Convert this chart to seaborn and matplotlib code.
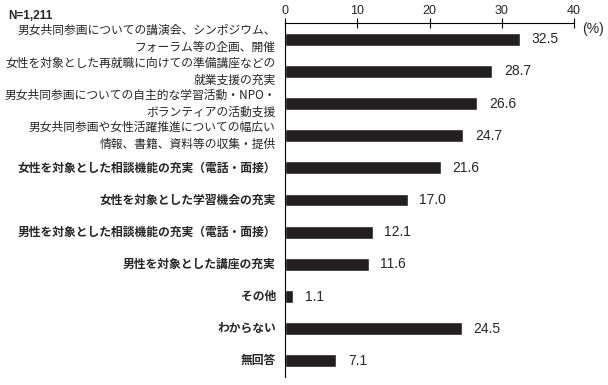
import matplotlib
matplotlib.use("Agg")
import matplotlib.pyplot as plt
import seaborn as sns
import pandas as pd

# データ
labels = [
    "男女共同参画についての講演会、シンポジウム、\nフォーラム等の企画、開催",
    "女性を対象とした再就職に向けての準備講座などの\n就業支援の充実",
    "男女共同参画についての自主的な学習活動・NPO・\nボランティアの活動支援",
    "男女共同参画や女性活躍推進についての幅広い\n情報、書籍、資料等の収集・提供",
    "女性を対象とした相談機能の充実（電話・面接）",
    "女性を対象とした学習機会の充実",
    "男性を対象とした相談機能の充実（電話・面接）",
    "男性を対象とした講座の充実",
    "その他",
    "わからない",
    "無回答",
]
values = [32.5, 28.7, 26.6, 24.7, 21.6, 17.0, 12.1, 11.6, 1.1, 24.5, 7.1]
xticks = [0, 10, 20, 30, 40]

df = pd.DataFrame({"item": labels, "pct": values})

sns.set_style("white")
plt.rcParams["font.family"] = ["Noto Sans CJK JP", "DejaVu Sans"]

fig = plt.figure(figsize=(6.08, 3.85), dpi=100)
ax = fig.add_axes([0.469, 0.021, 0.475, 0.919])

sns.barplot(data=df, y="item", x="pct", orient="h", color="#231f20",
            width=0.4, ax=ax, saturation=1)

ax.set_xlim(0, 40)
ax.set_ylim(len(labels) - 0.5, -0.5)
ax.xaxis.tick_top()
ax.set_xticks(xticks)
ax.set_xticklabels([str(t) for t in xticks], fontsize=9, family="Liberation Sans")
ax.tick_params(axis="x", direction="inout", length=7, width=0.8, pad=1, color="black")

# 区切りの目盛り
ax.set_yticks(range(len(labels)))
ax.set_yticklabels([])
ax.tick_params(axis="y", length=0)
ax.set_yticks([i - 0.5 for i in range(len(labels) + 1)], minor=True)
ax.tick_params(axis="y", which="minor", direction="inout", length=7, width=0.8, color="black")

for s in ["right", "bottom"]:
    ax.spines[s].set_visible(False)
for s in ["top", "left"]:
    ax.spines[s].set_color("black")
    ax.spines[s].set_linewidth(0.8)

ax.set_xlabel("")
ax.set_ylabel("")

for i, (lab, v) in enumerate(zip(labels, values)):
    ax.text(-1.3, i, lab, ha="right", va="center", fontsize=8.5,
            fontweight="normal" if "\n" in lab else "bold",
            linespacing=1.4, clip_on=False)
    ax.text(v + 1.6, i, f"{v:.1f}", ha="left", va="center", fontsize=10,
            family="Liberation Sans")

fig.text(0.957, 0.925, "(%)", ha="left", va="center", fontsize=10, family="Liberation Sans")
fig.text(0.013, 0.958, "N=1,211", ha="left", va="center", fontsize=8.5,
         family="Liberation Sans", fontweight="bold")

fig.savefig("out.png", dpi=100)
